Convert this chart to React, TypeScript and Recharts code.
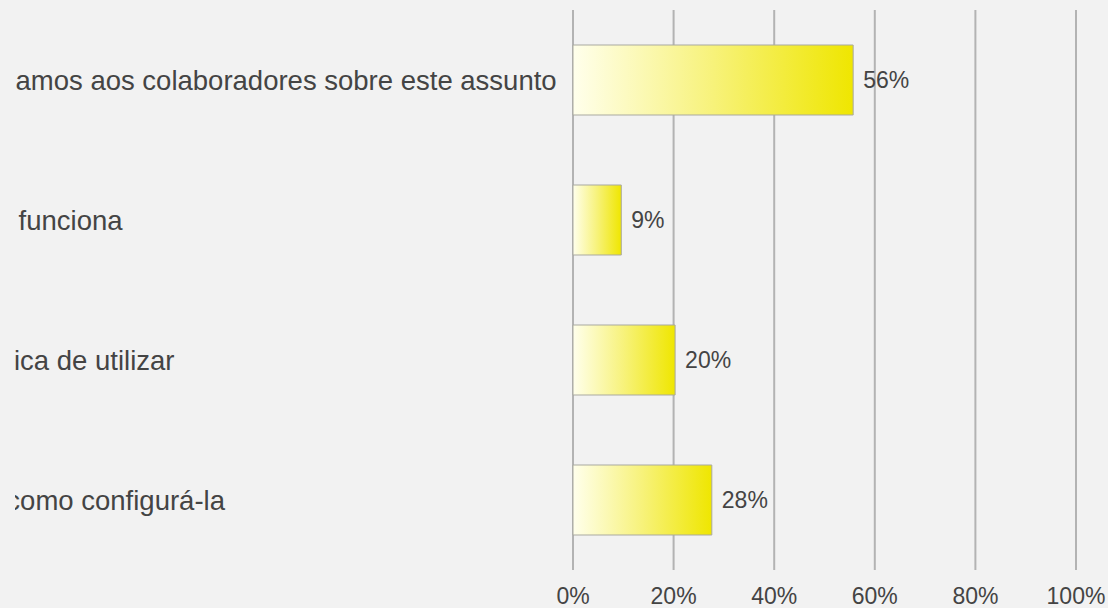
import { BarChart, Bar, XAxis, YAxis, CartesianGrid, LabelList } from 'recharts'

// answers (the start of each text is cut off at the left edge in the original)
const categories = [
  'Não informamos aos colaboradores sobre este assunto',
  'Não sei se funciona',
  'Não é técnica de utilizar',
  'Não sabe como configurá-la',
]
const values = [55.7, 9.6, 20.3, 27.6]
const valueLabels = ['56%', '9%', '20%', '28%']
const xTicks = [0, 20, 40, 60, 80, 100]

const data = categories.map((name, i) => ({ name, value: values[i], label: valueLabels[i] }))

const family = '"Liberation Sans", Arial, sans-serif'
const smallFont = { fontFamily: family, fontSize: 23, fill: '#444' }

// labels are left aligned, starting off-canvas
const LABEL_X = -119

function CategoryTick(props: any) {
  const { y, payload } = props
  return (
    <g clipPath="url(#labelClip)">
      <text x={LABEL_X} y={y} dy="0.355em" textAnchor="start" fontFamily={family} fontSize={27.5} fill="#444">
        {payload.value}
      </text>
    </g>
  )
}

export default function App() {
  return (
    <div style={{ position: 'absolute', left: 0, top: 0, width: 1108, height: 608, background: '#f2f2f2' }}>
      <BarChart
        width={1108} height={608} data={data} layout="vertical"
        margin={{ top: 10, right: 32, bottom: 0, left: 0 }}
      >
        <defs>
          <linearGradient id="barGrad" x1="0" y1="0" x2="1" y2="0">
            <stop offset="0%" stopColor="#ffffec" />
            <stop offset="50%" stopColor="#f7f27a" />
            <stop offset="100%" stopColor="#efe600" />
          </linearGradient>
          <clipPath id="labelClip">
            <rect x={15} y={0} width={558} height={608} />
          </clipPath>
        </defs>
        <CartesianGrid horizontal={false} stroke="#b3b3b3" strokeWidth={2} />
        <XAxis
          type="number" domain={[0, 100]} ticks={xTicks}
          tickFormatter={v => `${v}%`}
          axisLine={false} tickLine={false} tickSize={0} tickMargin={18}
          height={38} tick={smallFont} interval={0}
        />
        <YAxis
          type="category" dataKey="name" width={573}
          axisLine={false} tickLine={false} tickSize={0}
          tick={CategoryTick} interval={0}
        />
        <Bar dataKey="value" barSize={70} fill="url(#barGrad)" stroke="#a9a9a0" strokeWidth={1} isAnimationActive={false}>
          <LabelList dataKey="label" position="right" offset={10} style={smallFont} />
        </Bar>
      </BarChart>
    </div>
  )
}
